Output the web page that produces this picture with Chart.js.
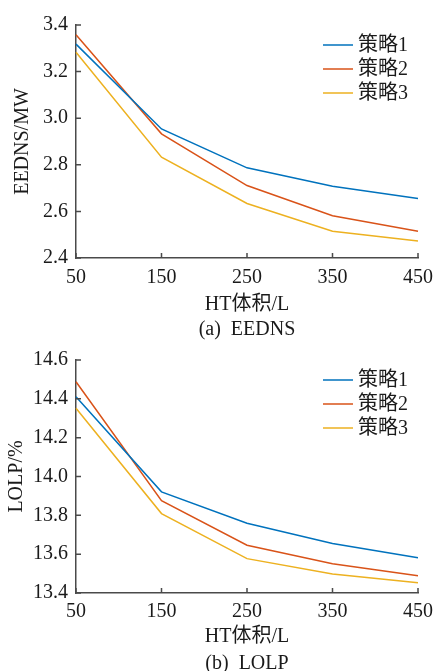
<!DOCTYPE html>
<html>
<head>
<meta charset="utf-8">
<script src="https://cdn.jsdelivr.net/npm/chart.js@4.4.1/dist/chart.umd.min.js"></script>
<style>
    body { margin: 0; background: #fff; }
    .panel { position: relative; width: 435px; overflow: hidden; }
    .panel canvas { display: block; }
    .caption {
        position: absolute; left: 0; width: 494px; text-align: center;
        font: 20px "Liberation Serif", "Times New Roman", serif; color: #1a1a1a;
        white-space: pre; line-height: 23px;
    }
</style>
</head>
<body>
<div class="panel" style="height:340px">
    <canvas id="chart-a" width="435" height="340"></canvas>
    <div class="caption" style="top:317px">(a)  EEDNS</div>
</div>
<div class="panel" style="height:331px">
    <canvas id="chart-b" width="435" height="331"></canvas>
    <div class="caption" style="top:311px">(b)  LOLP</div>
</div>
<script>
const volumes = ['50', '150', '250', '350', '450'];
const strategies = ['策略1', '策略2', '策略3'];
const colors = ['#0072BD', '#D95319', '#EDB120'];

// EEDNS / MW
const eednsS1 = [3.318, 2.954, 2.787, 2.708, 2.655];
const eednsS2 = [3.358, 2.933, 2.711, 2.581, 2.515];
const eednsS3 = [3.283, 2.833, 2.634, 2.515, 2.473];

// LOLP / %
const lolpS1 = [14.411, 13.921, 13.759, 13.655, 13.582];
const lolpS2 = [14.488, 13.875, 13.646, 13.551, 13.489];
const lolpS3 = [14.351, 13.809, 13.577, 13.498, 13.453];

const FONT = '"Liberation Serif", "Times New Roman", "Noto Sans CJK SC", serif';
const TEXT = '#1a1a1a';
const AXIS = '#4a4a4a';

Chart.defaults.font.family = FONT;
Chart.defaults.font.size = 20;
Chart.defaults.color = TEXT;

// ticks pointing inside the plot + legend in the upper right corner
const insideDecor = {
    id: 'insideDecor',
    afterDraw(chart) {
        const ctx = chart.ctx;
        const area = chart.chartArea;
        const xs = chart.scales.x;
        const ys = chart.scales.y;
        ctx.save();
        ctx.strokeStyle = AXIS;
        ctx.lineWidth = 1.5;
        ctx.beginPath();
        xs.ticks.forEach((t, i) => {
            const px = xs.getPixelForTick(i);
            ctx.moveTo(px, area.bottom);
            ctx.lineTo(px, area.bottom - 5);
        });
        ys.ticks.forEach((t, i) => {
            const py = ys.getPixelForTick(i);
            ctx.moveTo(area.left, py);
            ctx.lineTo(area.left + 5, py);
        });
        ctx.stroke();

        ctx.font = '20px ' + FONT;
        ctx.textBaseline = 'middle';
        ctx.fillStyle = TEXT;
        chart.data.datasets.forEach((ds, i) => {
            const y = area.top + 20 + i * 24;
            ctx.strokeStyle = ds.borderColor;
            ctx.lineWidth = 1.5;
            ctx.beginPath();
            ctx.moveTo(area.right - 95, y);
            ctx.lineTo(area.right - 65, y);
            ctx.stroke();
            ctx.fillText(ds.label, area.right - 60, y + 1);
        });
        ctx.restore();
    }
};

function makeChart(id, series, yTitle, yMin, yMax, pad, yWidth, xHeight, xPad) {
    const ctx = document.getElementById(id).getContext('2d');
    return new Chart(ctx, {
        type: 'line',
        data: {
            labels: volumes,
            datasets: series.map((vals, i) => ({
                label: strategies[i],
                data: vals,
                borderColor: colors[i],
                borderWidth: 1.5,
                pointRadius: 0,
                fill: false,
                tension: 0
            }))
        },
        options: {
            responsive: false,
            animation: false,
            layout: { padding: pad },
            plugins: { legend: { display: false }, tooltip: { enabled: false } },
            scales: {
                x: {
                    offset: false,
                    grid: { display: false, drawTicks: false },
                    border: { display: true, color: AXIS, width: 1.5 },
                    ticks: { padding: xPad, color: TEXT, maxRotation: 0 },
                    title: { display: true, text: 'HT体积/L', color: TEXT },
                    afterFit: scale => {
                        scale.height = xHeight;
                        scale.paddingLeft = 0;
                        scale.paddingRight = 0;
                    }
                },
                y: {
                    min: yMin,
                    max: yMax,
                    grid: { display: false, drawTicks: false },
                    border: { display: true, color: AXIS, width: 1.5 },
                    ticks: { stepSize: 0.2, padding: 8, color: TEXT, callback: v => v.toFixed(1) },
                    title: { display: true, text: yTitle, color: TEXT },
                    afterFit: scale => { scale.width = yWidth; }
                }
            }
        },
        plugins: [insideDecor]
    });
}

makeChart('chart-a', [eednsS1, eednsS2, eednsS3], 'EEDNS/MW', 2.4, 3.4,
    { left: 7, right: 17, top: 25, bottom: 19 }, 69, 63, 8);
makeChart('chart-b', [lolpS1, lolpS2, lolpS3], 'LOLP/%', 13.4, 14.6,
    { left: 1, right: 17, top: 20, bottom: 18 }, 75, 60, 7);
</script>
</body>
</html>
